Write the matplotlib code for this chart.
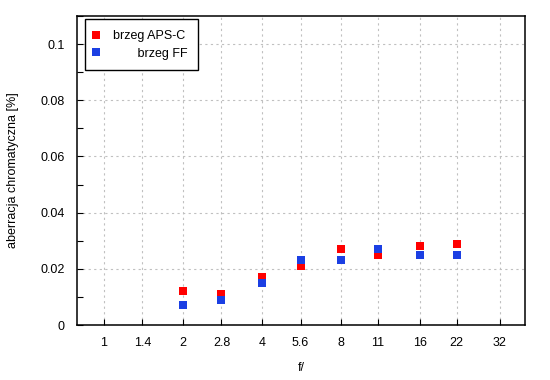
import matplotlib
matplotlib.use("Agg")
import matplotlib.pyplot as plt
from matplotlib.ticker import FixedLocator, NullLocator, MultipleLocator

plt.rcParams['font.family'] = ['Liberation Sans', 'DejaVu Sans']

# data
f_ticks = [1, 1.4, 2, 2.8, 4, 5.6, 8, 11, 16, 22, 32]
f_tick_labels = ["1", "1.4", "2", "2.8", "4", "5.6", "8", "11", "16", "22", "32"]
f_values = [2, 2.8, 4, 5.6, 8, 11, 16, 22]
aps_c = [0.012, 0.011, 0.017, 0.021, 0.027, 0.025, 0.028, 0.029]
ff = [0.007, 0.009, 0.015, 0.023, 0.023, 0.027, 0.025, 0.025]
y_ticks = [0, 0.02, 0.04, 0.06, 0.08, 0.1]
y_tick_labels = ["0", "0.02", "0.04", "0.06", "0.08", "0.1"]

fig = plt.figure(figsize=(5.5, 3.8), dpi=100)
ax = fig.add_axes([77/550, 1 - 325/380, (525-77)/550, (325-16)/380])

ax.plot(f_values, aps_c, linestyle='none', marker='s', markersize=5.3,
        color='#ff0000', markeredgewidth=0, label='brzeg APS-C')
ax.plot(f_values, ff, linestyle='none', marker='s', markersize=5.3,
        color='#1b3fe3', markeredgewidth=0, label='       brzeg FF')

ax.set_xscale('log')
ax.set_xlim(0.79, 40)
ax.set_ylim(0, 0.11)
ax.xaxis.set_major_locator(FixedLocator(f_ticks))
ax.xaxis.set_minor_locator(NullLocator())
ax.set_xticklabels(f_tick_labels)
ax.yaxis.set_major_locator(FixedLocator(y_ticks))
ax.set_yticklabels(y_tick_labels)
ax.yaxis.set_minor_locator(MultipleLocator(0.01))

ax.tick_params(axis='both', which='both', direction='in', length=4.5, width=0.8,
               labelsize=9, colors='black')
ax.tick_params(axis='x', which='both', pad=9, top=False)
ax.tick_params(axis='y', which='both', pad=9, right=False)

ax.grid(True, which='major', color='#c0c0c0', linestyle=(0, (2, 3)), linewidth=0.8)
ax.set_axisbelow(True)
for s in ax.spines.values():
    s.set_linewidth(1.1)
    s.set_color('black')

ax.set_xlabel('f/', fontsize=9, labelpad=9)
ax.set_ylabel('aberracja chromatyczna [%]', fontsize=9, labelpad=15)

leg = ax.legend(loc='upper left', bbox_to_anchor=(8/448, 1 - 3.3/309),
                borderaxespad=0, fancybox=False, framealpha=1, edgecolor='black',
                fontsize=9, handlelength=0.1, handletextpad=1.3, borderpad=0.85,
                labelspacing=0.45, markerscale=1.0)
leg.get_frame().set_linewidth(1.0)

fig.savefig('out.png', dpi=100)
